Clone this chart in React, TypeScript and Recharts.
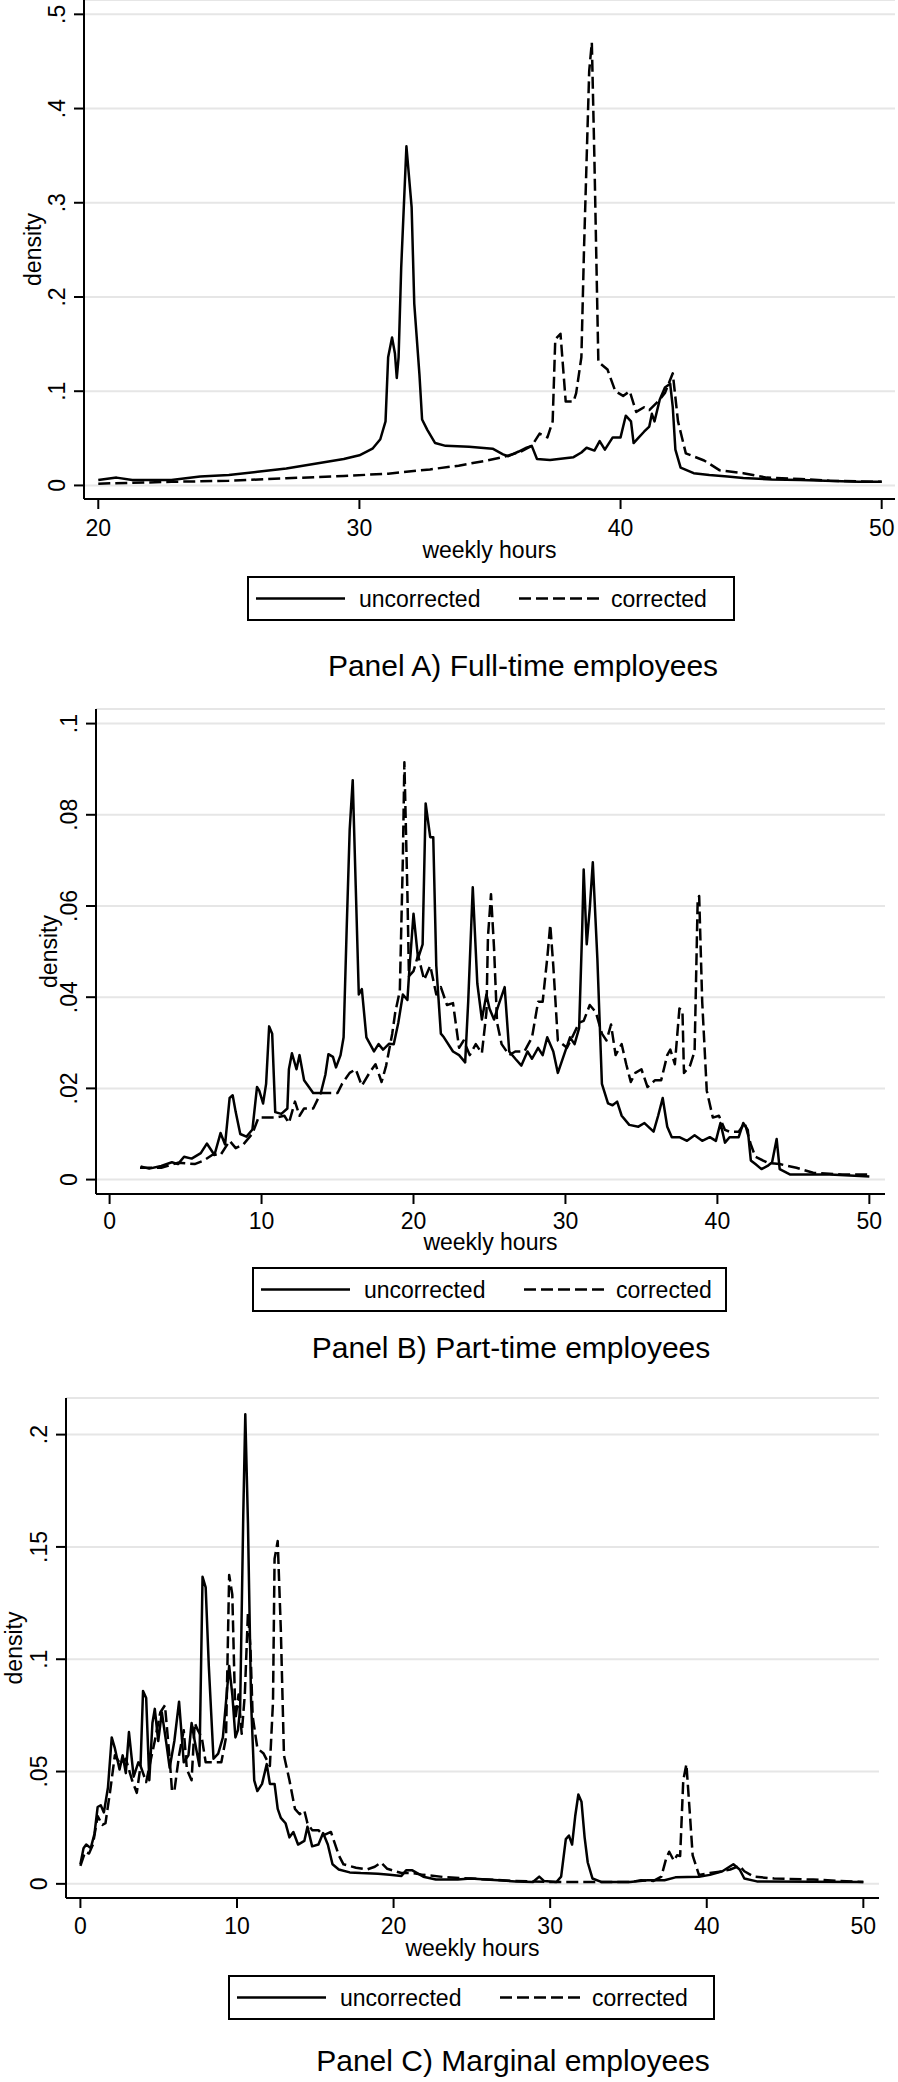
import { LineChart, Line, XAxis, YAxis, CartesianGrid } from 'recharts'

type Pt = [number, number]

// Panel A) full-time employees, [weekly hours, density]
const fullTimeUncorrected: Pt[] = [
  [20, .0057], [20.7, .0083], [21.3, .0057], [22.8, .0057], [23.9, .0095], [25, .011],
  [26.1, .0144], [27.2, .018], [28.3, .023], [29.4, .028], [30, .032], [30.5, .039],
  [30.8, .049], [31, .068], [31.1, .136], [31.25, .157], [31.36, .14], [31.43, .114],
  [31.5, .136], [31.6, .231], [31.8, .36], [32.0, .295], [32.1, .193], [32.3, .117],
  [32.4, .07], [32.6, .059], [32.9, .045], [33.3, .042], [34.2, .041], [35.1, .039],
  [35.5, .033], [35.7, .031], [36.1, .036], [36.4, .04], [36.6, .042], [36.8, .028],
  [37.3, .027], [38.2, .030], [38.5, .035], [38.7, .040], [39.0, .037], [39.2, .047],
  [39.4, .038], [39.7, .051], [40.0, .051], [40.2, .074], [40.4, .068], [40.5, .045],
  [40.7, .051], [40.9, .057], [41.1, .0625], [41.2, .076], [41.3, .068], [41.5, .091],
  [41.7, .104], [41.9, .108], [42.0, .083], [42.1, .038], [42.3, .019], [42.8, .013],
  [43.4, .011], [44.1, .0095], [44.7, .008], [45.8, .0064], [46.9, .0057], [49.1, .0038],
  [50, .0038],
]
const fullTimeCorrected: Pt[] = [
  [20, .0019], [22.8, .0038], [25, .005], [27.2, .0076], [29.4, .010], [31.1, .0125],
  [32.7, .017], [33.8, .021], [34.9, .0265], [35.5, .030], [36.2, .036], [36.6, .042],
  [36.9, .055], [37.2, .051], [37.4, .068], [37.5, .155], [37.7, .161], [37.9, .089],
  [38.2, .089], [38.3, .098], [38.5, .136], [38.6, .25], [38.8, .44], [38.9, .47],
  [39.0, .345], [39.15, .131], [39.5, .123], [39.8, .10], [40.1, .095], [40.35, .10],
  [40.6, .078], [40.9, .083], [41.1, .080], [41.5, .091], [41.7, .098], [42.0, .119],
  [42.2, .068], [42.5, .034], [43.2, .0265], [43.8, .016], [44.7, .013], [45.6, .0083],
  [46.9, .0068], [48, .005], [50, .0038],
]

// Panel B) part-time employees
const partTimeUncorrected: Pt[] = [
  [2.04, .0029], [2.6, .0024], [3.4, .003], [4.1, .0038], [4.5, .0034], [4.9, .005],
  [5.4, .0046], [6.0, .0058], [6.4, .0079], [6.9, .0054], [7.3, .0102], [7.6, .0077],
  [7.9, .0179], [8.1, .0185], [8.3, .0148], [8.6, .010], [9.0, .0094], [9.4, .011],
  [9.7, .0203], [9.85, .0195], [10.1, .0167], [10.3, .021], [10.5, .0336], [10.7, .032],
  [10.9, .0148], [11.3, .0144], [11.7, .0156], [11.8, .0242], [12.0, .0277], [12.3, .0242],
  [12.5, .0273], [12.8, .0218], [13.4, .019], [13.9, .019], [14.2, .023], [14.4, .0275],
  [14.7, .0269], [14.9, .0246], [15.2, .0273], [15.4, .0312], [15.6, .0547], [15.8, .0767],
  [16.0, .0876], [16.2, .0641], [16.4, .0406], [16.6, .0418], [16.9, .0312], [17.4, .0281],
  [17.7, .0297], [18.0, .0285], [18.4, .0298], [18.7, .0297], [19.0, .0344], [19.3, .0406],
  [19.6, .0394], [19.7, .0446], [20.0, .0583], [20.3, .0485], [20.6, .0516], [20.8, .0825],
  [21.1, .0751], [21.3, .0751], [21.5, .0469], [21.8, .032], [22.0, .0312], [22.6, .0281],
  [23.0, .0273], [23.4, .0257], [23.6, .039], [23.9, .0641], [24.2, .043], [24.5, .0351],
  [24.8, .0406], [25.0, .0375], [25.3, .0351], [25.6, .0383], [26.0, .0422], [26.3, .0281],
  [26.7, .0265], [27.1, .025], [27.5, .0281], [27.8, .0265], [28.2, .0289], [28.5, .0273],
  [28.8, .0312], [29.2, .0281], [29.5, .0234], [29.9, .0273], [30.3, .0312], [30.6, .0297],
  [30.9, .0332], [31.1, .0547], [31.2, .068], [31.4, .0516], [31.6, .0594], [31.8, .0696],
  [32.1, .0485], [32.4, .021], [32.8, .0167], [33.1, .0163], [33.4, .0171], [33.7, .014],
  [34.2, .012], [34.8, .0116], [35.2, .0124], [35.8, .0105], [36.1, .014], [36.4, .0179],
  [36.7, .0116], [37.0, .0093], [37.5, .0093], [38.0, .0085], [38.5, .0097], [39.0, .0085],
  [39.5, .0093], [39.9, .0085], [40.2, .0124], [40.5, .0081], [40.8, .0093], [41.4, .0093],
  [41.7, .0124], [42.0, .0109], [42.2, .0042], [42.5, .0034], [42.9, .0023], [43.3, .003],
  [43.6, .0038], [43.9, .0089], [44.1, .0023], [44.8, .0011], [47.4, .0011], [50.0, .0007],
]
const partTimeCorrected: Pt[] = [
  [2.0, .0026], [3.4, .0026], [4.5, .0037], [5.6, .0034], [6.2, .0042], [6.8, .0055],
  [7.3, .0054], [7.9, .0085], [8.3, .0069], [8.8, .0077], [9.4, .0101], [9.8, .0136],
  [10.1, .0136], [10.5, .0136], [10.9, .0136], [11.5, .014], [11.8, .0124], [12.2, .0171],
  [12.5, .014], [12.8, .0156], [13.4, .0156], [13.9, .019], [14.5, .019], [15.0, .019],
  [15.3, .021], [15.8, .0234], [16.2, .0242], [16.6, .0206], [17.1, .0234], [17.5, .0253],
  [17.9, .0214], [18.2, .025], [18.6, .032], [18.8, .0367], [19.1, .0414], [19.3, .0704],
  [19.4, .0915], [19.6, .0626], [19.7, .0446], [20.0, .0457], [20.3, .0492], [20.7, .0438],
  [21.1, .0469], [21.5, .0406], [21.8, .0422], [22.2, .0383], [22.6, .0387], [23.0, .0289],
  [23.3, .0305], [23.7, .0273], [24.1, .0297], [24.5, .0277], [24.8, .0367], [24.9, .0532],
  [25.1, .0626], [25.3, .0508], [25.5, .0344], [25.8, .0297], [26.3, .0273], [26.7, .0281],
  [27.3, .0281], [27.8, .0312], [28.2, .039], [28.5, .039], [28.8, .0485], [29.0, .0559],
  [29.2, .0469], [29.5, .0305], [30.1, .0289], [30.5, .0316], [30.9, .0344], [31.2, .0348],
  [31.6, .0383], [32.0, .0367], [32.4, .032], [32.7, .0305], [33.0, .034], [33.3, .0273],
  [33.7, .0297], [34.0, .0253], [34.3, .0214], [34.6, .0234], [35.0, .0242], [35.4, .0203],
  [35.9, .0218], [36.3, .0218], [36.7, .0273], [36.9, .0285], [37.2, .0253], [37.5, .0375],
  [37.7, .0371], [37.8, .0234], [38.2, .025], [38.5, .0281], [38.7, .061], [38.8, .0622],
  [39.0, .039], [39.3, .0195], [39.7, .0136], [40.1, .014], [40.5, .0109], [40.8, .0105],
  [41.4, .0105], [41.8, .0124], [42.2, .0077], [42.5, .005], [43.3, .0037], [44.1, .0034],
  [45.2, .0026], [46.3, .0015], [48.2, .0011], [50.0, .0011],
]

// Panel C) marginal employees
const marginalUncorrected: Pt[] = [
  [0.0, .0087], [0.2, .0159], [0.37, .0175], [0.66, .0159], [0.9, .0223], [1.1, .0342],
  [1.3, .035], [1.5, .0318], [1.76, .0429], [2.0, .0652], [2.2, .0604], [2.5, .0509],
  [2.7, .0572], [2.9, .0493], [3.1, .0676], [3.4, .0477], [3.7, .0541], [3.84, .0525],
  [4.0, .0859], [4.2, .0827], [4.4, .0461], [4.6, .0716], [4.75, .0779], [4.97, .0636],
  [5.2, .0763], [5.5, .062], [5.7, .0517], [6.0, .0636], [6.3, .0811], [6.6, .0541],
  [6.9, .0572], [7.1, .0716], [7.3, .0636], [7.6, .0525], [7.8, .1367], [8.0, .132],
  [8.2, .097], [8.5, .0557], [8.8, .058], [9.1, .0652], [9.3, .0811], [9.5, .097],
  [9.7, .0843], [9.9, .0652], [10.06, .0684], [10.2, .0779], [10.4, .1638], [10.53, .2091],
  [10.7, .1606], [10.9, .0811], [11.1, .0461], [11.3, .0413], [11.6, .0445], [11.9, .0533],
  [12.1, .0445], [12.4, .0445], [12.6, .0334], [12.8, .0294], [13.1, .027], [13.35, .0207],
  [13.6, .0231], [13.9, .0175], [14.3, .0191], [14.5, .0254], [14.8, .0167], [15.2, .0175],
  [15.5, .0226], [15.8, .0175], [16.1, .0087], [16.5, .0064], [17.2, .0051], [17.9, .0048],
  [19.0, .0045], [19.75, .004], [20.5, .0035], [20.8, .006], [21.2, .006], [21.9, .0032],
  [22.7, .0019], [24.1, .0019], [24.9, .0024], [27.8, .0011], [28.9, .0008], [29.3, .0032],
  [29.6, .0013], [30.4, .0008], [30.7, .0032], [31.0, .0199], [31.2, .0215], [31.4, .0175],
  [31.6, .0302], [31.8, .0398], [32.0, .0366], [32.2, .0207], [32.4, .0095], [32.7, .0024],
  [33.3, .0008], [35.1, .0008], [36.2, .0016], [37.3, .0016], [38.0, .0029], [39.5, .0032],
  [40.2, .004], [41.0, .0056], [41.7, .0087], [42.1, .0064], [42.4, .0024], [43.2, .0011],
  [50.0, .0008],
]
const marginalCorrected: Pt[] = [
  [0.0, .008], [0.3, .0143], [0.55, .0135], [0.8, .0175], [1.1, .0302], [1.4, .0262],
  [1.6, .027], [1.9, .0413], [2.2, .0572], [2.56, .0533], [2.9, .0557], [3.3, .0461],
  [3.6, .0405], [3.84, .0525], [4.2, .0453], [4.46, .0541], [4.75, .0636], [5.1, .0763],
  [5.4, .0795], [5.7, .0557], [5.85, .0413], [6.0, .0413], [6.3, .0572], [6.6, .0684],
  [6.8, .0509], [7.1, .0461], [7.3, .0716], [7.5, .0684], [7.75, .0652], [8.0, .0541],
  [8.5, .0541], [9.0, .0541], [9.3, .0652], [9.5, .1375], [9.7, .1288], [9.9, .0731],
  [10.1, .0843], [10.3, .0668], [10.5, .0843], [10.7, .1208], [10.86, .1049], [11.0, .0747],
  [11.3, .0604], [11.7, .058], [12.1, .0525], [12.3, .0811], [12.4, .1447], [12.6, .1526],
  [12.8, .1129], [13.0, .0572], [13.35, .0461], [13.7, .0334], [14.0, .031], [14.3, .0326],
  [14.5, .027], [14.8, .0239], [15.2, .0239], [15.5, .0215], [16.0, .0231], [16.5, .0127],
  [16.8, .0087], [17.6, .0072], [18.3, .0064], [18.8, .0076], [19.2, .0095], [19.6, .0067],
  [20.5, .0048], [21.2, .0048], [21.9, .004], [23.4, .0029], [24.9, .0024], [26.0, .0019],
  [27.8, .0013], [30.0, .0008], [33.3, .0008], [35.1, .0008], [35.8, .0016], [36.6, .0013],
  [37.1, .0032], [37.4, .0111], [37.6, .0143], [37.9, .0103], [38.1, .0127], [38.3, .0124],
  [38.5, .0461], [38.7, .0533], [38.9, .0334], [39.1, .0127], [39.5, .004], [40.2, .0048],
  [41.0, .0056], [41.5, .0064], [42.1, .008], [42.4, .0056], [43.0, .0032], [44.3, .0024],
  [46.8, .0019], [50.0, .0008],
]

const hoursTicksA = [20, 30, 40, 50]
const hoursTicksBC = [0, 10, 20, 30, 40, 50]
const densityTicksA = [0, 0.1, 0.2, 0.3, 0.4, 0.5]
const densityTicksB = [0, 0.02, 0.04, 0.06, 0.08, 0.1]
const densityTicksC = [0, 0.05, 0.1, 0.15, 0.2]

const FONT = 'Arial, "Liberation Sans", Helvetica, sans-serif'
const DASH = '12 5'
const LINE_W = 2.5

const toRows = (pts: Pt[]) => pts.map(([hours, density]) => ({ hours, density }))
const fmtDensity = (v: number) => (v === 0 ? '0' : String(v).replace(/^0/, ''))

interface PanelProps {
  title: string
  top: number
  height: number
  marginTop: number
  marginRight: number
  plotLeft: number
  plotHeight: number
  xDomain: [number, number]
  yDomain: [number, number]
  xTicks: number[]
  yTicks: number[]
  xTickMargin: number
  uncorrected: Pt[]
  corrected: Pt[]
  densityX: number
  hoursDy: number
  legendLeft: number
  legendTop: number
  legendWidth: number
  titleX: number
  titleY: number
}

function YTick({ x, y, payload }: { x?: number; y?: number; payload?: { value: number } }) {
  return (
    <text
      x={x}
      y={y}
      transform={`rotate(-90, ${x}, ${y})`}
      textAnchor="middle"
      fill="#000"
      fontSize={23}
      fontFamily={FONT}
    >
      {fmtDensity(payload?.value ?? 0)}
    </text>
  )
}

function LegendBox({ left, top, width }: { left: number; top: number; width: number }) {
  return (
    <svg
      width={width}
      height={46}
      style={{ position: 'absolute', left, top, overflow: 'visible' }}
    >
      <rect x={1} y={1} width={width - 2} height={43} fill="#fff" stroke="#000" strokeWidth={2} />
      <line x1={9} x2={98} y1={22.5} y2={22.5} stroke="#000" strokeWidth={LINE_W} />
      <text x={112} y={30.5} fontSize={23} fontFamily={FONT} fill="#000">uncorrected</text>
      <line x1={272} x2={353} y1={22.5} y2={22.5} stroke="#000" strokeWidth={LINE_W} strokeDasharray={DASH} />
      <text x={364} y={30.5} fontSize={23} fontFamily={FONT} fill="#000">corrected</text>
    </svg>
  )
}

function Panel(p: PanelProps) {
  const plotRight = 898 - p.marginRight
  const xCenter = (p.plotLeft + plotRight) / 2
  const plotBottom = p.marginTop + p.plotHeight
  const axisStyle = { stroke: '#000', strokeWidth: 2 }
  return (
    <>
      <div style={{ position: 'absolute', left: 0, top: p.top }}>
        <LineChart
          width={898}
          height={p.height}
          margin={{ top: p.marginTop, right: p.marginRight, left: 0, bottom: 0 }}
        >
          <CartesianGrid vertical={false} stroke="#e6e6e6" strokeWidth={2} />
          <XAxis
            type="number"
            dataKey="hours"
            domain={p.xDomain}
            ticks={p.xTicks}
            allowDataOverflow
            height={p.height - p.marginTop - p.plotHeight}
            tickSize={10}
            tickMargin={p.xTickMargin}
            axisLine={axisStyle}
            tickLine={axisStyle}
            tick={{ fill: '#000', fontSize: 23, fontFamily: FONT }}
            label={{
              content: () => (
                <text x={xCenter} y={plotBottom + p.hoursDy} textAnchor="middle" fontSize={23} fontFamily={FONT} fill="#000">
                  weekly hours
                </text>
              ),
            }}
          />
          <YAxis
            type="number"
            domain={p.yDomain}
            ticks={p.yTicks}
            allowDataOverflow
            width={p.plotLeft}
            tickSize={10}
            tickMargin={9}
            axisLine={axisStyle}
            tickLine={axisStyle}
            tick={<YTick />}
            label={{
              content: () => {
                const cy = p.marginTop + p.plotHeight / 2
                return (
                  <text
                    x={p.densityX}
                    y={cy}
                    transform={`rotate(-90, ${p.densityX}, ${cy})`}
                    textAnchor="middle"
                    fontSize={23}
                    fontFamily={FONT}
                    fill="#000"
                  >
                    density
                  </text>
                )
              },
            }}
          />
          <Line
            data={toRows(p.uncorrected)}
            dataKey="density"
            name="uncorrected"
            type="linear"
            stroke="#000"
            strokeWidth={LINE_W}
            strokeLinejoin="round"
            dot={false}
            activeDot={false}
            isAnimationActive={false}
          />
          <Line
            data={toRows(p.corrected)}
            dataKey="density"
            name="corrected"
            type="linear"
            stroke="#000"
            strokeWidth={LINE_W}
            strokeDasharray={DASH}
            strokeLinejoin="round"
            dot={false}
            activeDot={false}
            isAnimationActive={false}
          />
        </LineChart>
      </div>
      <LegendBox left={p.legendLeft} top={p.legendTop} width={p.legendWidth} />
      <svg width={898} height={40} style={{ position: 'absolute', left: 0, top: p.titleY - 30 }}>
        <text x={p.titleX} y={30} textAnchor="middle" fontSize={30} fontFamily={FONT} fill="#000">
          {p.title}
        </text>
      </svg>
    </>
  )
}

export default function App() {
  return (
    <div style={{ position: 'relative', width: 898, height: 2082, background: '#fff', overflow: 'hidden' }}>
      <style>{'body { margin: 0; }'}</style>
      <Panel
        title="Panel A) Full-time employees"
        top={0}
        height={575}
        marginTop={0}
        marginRight={3}
        plotLeft={84}
        plotHeight={499}
        xDomain={[19.453, 50.51]}
        yDomain={[-0.0144, 0.5152]}
        xTicks={hoursTicksA}
        yTicks={densityTicksA}
        xTickMargin={10.5}
        uncorrected={fullTimeUncorrected}
        corrected={fullTimeCorrected}
        densityX={40.5}
        hoursDy={59}
        legendLeft={247}
        legendTop={576}
        legendWidth={488}
        titleX={523}
        titleY={676}
      />
      <Panel
        title="Panel B) Part-time employees"
        top={690}
        height={575}
        marginTop={19}
        marginRight={13}
        plotLeft={96}
        plotHeight={485}
        xDomain={[-0.895, 51.03]}
        yDomain={[-0.00316, 0.1032]}
        xTicks={hoursTicksBC}
        yTicks={densityTicksB}
        xTickMargin={9}
        uncorrected={partTimeUncorrected}
        corrected={partTimeCorrected}
        densityX={56.5}
        hoursDy={56}
        legendLeft={252}
        legendTop={1267}
        legendWidth={475}
        titleX={511}
        titleY={1358}
      />
      <Panel
        title="Panel C) Marginal employees"
        top={1385}
        height={590}
        marginTop={13}
        marginRight={19}
        plotLeft={66}
        plotHeight={500}
        xDomain={[-0.92, 51.0]}
        yDomain={[-0.0063, 0.2163]}
        xTicks={hoursTicksBC}
        yTicks={densityTicksC}
        xTickMargin={9.5}
        uncorrected={marginalUncorrected}
        corrected={marginalCorrected}
        densityX={22}
        hoursDy={58}
        legendLeft={228}
        legendTop={1975}
        legendWidth={487}
        titleX={513}
        titleY={2071}
      />
    </div>
  )
}
